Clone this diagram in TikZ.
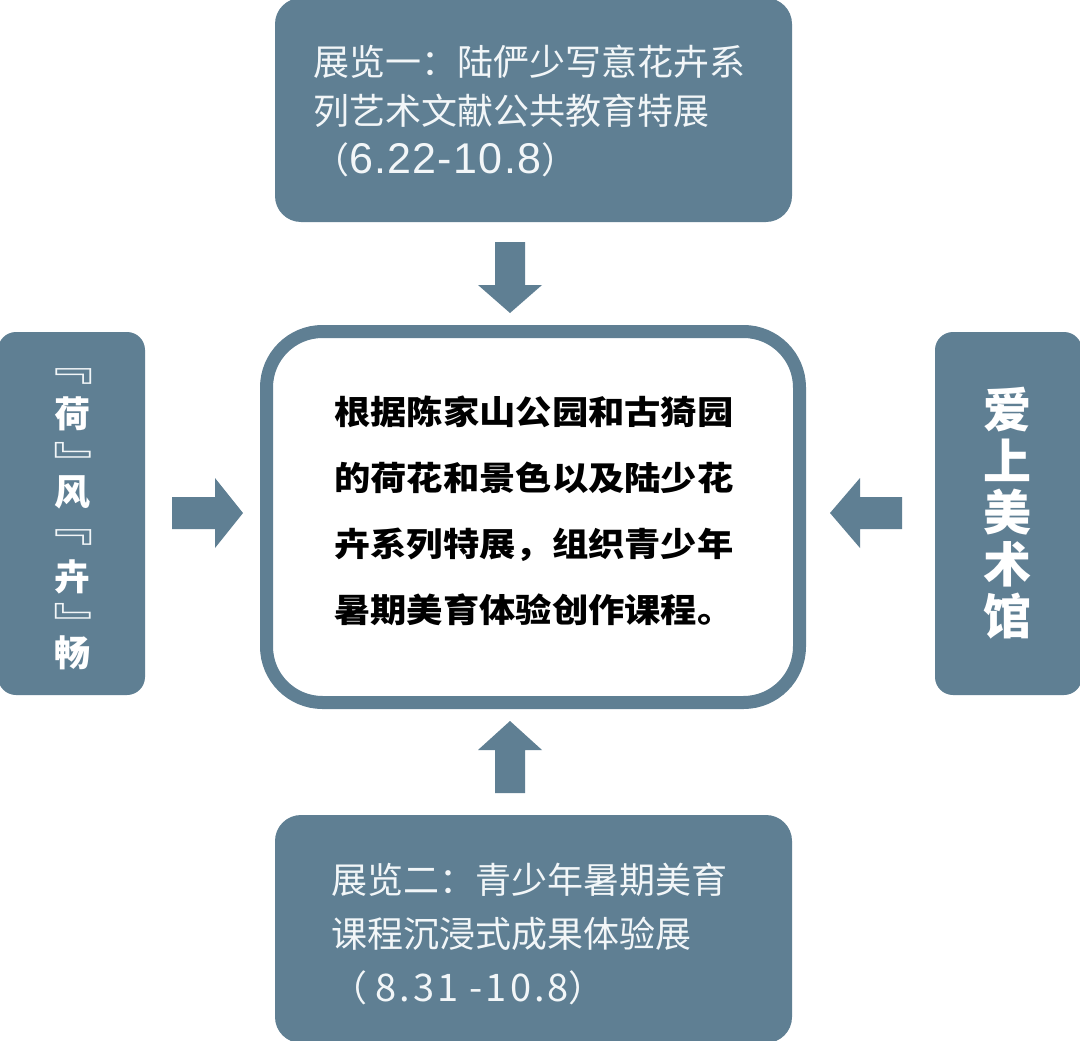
\documentclass[tikz,border=0pt]{standalone}
\usepackage{fontspec}
\setmainfont{Noto Sans CJK SC}
\newfontfamily\widecjk[FakeStretch=1.1]{Noto Sans CJK SC}
\newfontfamily\arialish[LetterSpace=3]{Liberation Sans}
\newfontfamily\notodigits[LetterSpace=8]{Noto Sans CJK SC}
\definecolor{slate}{HTML}{5F7F93}
\definecolor{paletext}{HTML}{F2F6F8}
\tikzset{
  panel/.style={fill=slate, draw=none},
  blockarrow/.style={fill=slate, draw=none},
  paneltext/.style={text=paletext, inner sep=0pt, align=left, anchor=west},
  sidechar/.style={text=white, inner sep=0pt, anchor=center, font=\fontsize{36}{36}\selectfont\bfseries},
  sidebracket/.style={text=paletext, inner sep=0pt, anchor=center, font=\fontsize{45}{45}\selectfont}
}
\begin{document}
\begin{tikzpicture}[x=1pt,y=-1pt]
\useasboundingbox (0,0) rectangle (1080,1041);
\fill[white] (0,0) rectangle (1080,1041);
% top panel
\path[panel, rounded corners=26pt] (275,-2) rectangle (792,222);
\node[paneltext, font=\fontsize{36}{49}\selectfont] (top) at (313,111)
  {展览一：陆俨少写意花卉系\\列艺术文献公共教育特展\\（{\arialish\fontsize{43}{49}\selectfont 6.22-10.8}）};
% bottom panel
\path[panel, rounded corners=26pt] (275,815) rectangle (792,1043);
\node[paneltext, font=\fontsize{36}{54}\selectfont] (bottom) at (331,934)
  {展览二：青少年暑期美育\\课程沉浸式成果体验展\\（ {\notodigits\fontsize{38}{54}\selectfont 8.31 -10.8}）};
% left panel
\path[panel, rounded corners=18pt] (-2,332) rectangle (145,695);
\node[sidebracket] (lb1) at (66,376) {\scalebox{1.2}[1]{﹃}};
\node[sidechar] (l1) at (72,414) {荷};
\node[sidebracket] (lb2) at (80,461) {\scalebox{1.2}[1]{﹄}};
\node[sidechar] (l2) at (72,492) {风};
\node[sidebracket] (lb3) at (66,537) {\scalebox{1.2}[1]{﹃}};
\node[sidechar] (l3) at (72,577) {卉};
\node[sidebracket] (lb4) at (80,622.5) {\scalebox{1.2}[1]{﹄}};
\node[sidechar] (l4) at (72,653) {畅};
% right panel
\path[panel, rounded corners=18pt] (935,332) rectangle (1082,695);
\node[text=white, inner sep=0pt, align=center, anchor=center,
  font=\fontsize{48}{51.7}\selectfont\bfseries] (right) at (1007,513)
  {爱\\上\\美\\术\\馆};
% center box
\draw[draw=slate, line width=13pt, fill=white, rounded corners=56pt]
  (266.5,331.5) rectangle (799.5,702.5);
\node[inner sep=0pt, align=left, anchor=west, text=black,
  font=\widecjk\fontsize{33}{66}\selectfont\bfseries] (center) at (334,511)
  {根据陈家山公园和古猗园\\的荷花和景色以及陆少花\\卉系列特展，组织青少年\\暑期美育体验创作课程。};
% block arrows
\fill[blockarrow] (495,242) -- (525,242) -- (525,285) -- (542,285) -- (510,313)
  -- (478,285) -- (495,285) -- cycle;
\fill[blockarrow] (495,793) -- (525,793) -- (525,750) -- (542,750) -- (510,721)
  -- (478,750) -- (495,750) -- cycle;
\fill[blockarrow] (172,497) -- (215,497) -- (215,478) -- (243,513) -- (215,548)
  -- (215,529) -- (172,529) -- cycle;
\fill[blockarrow] (902,497) -- (860,497) -- (860,478) -- (830,513) -- (860,548)
  -- (860,529) -- (902,529) -- cycle;
\end{tikzpicture}
\end{document}
